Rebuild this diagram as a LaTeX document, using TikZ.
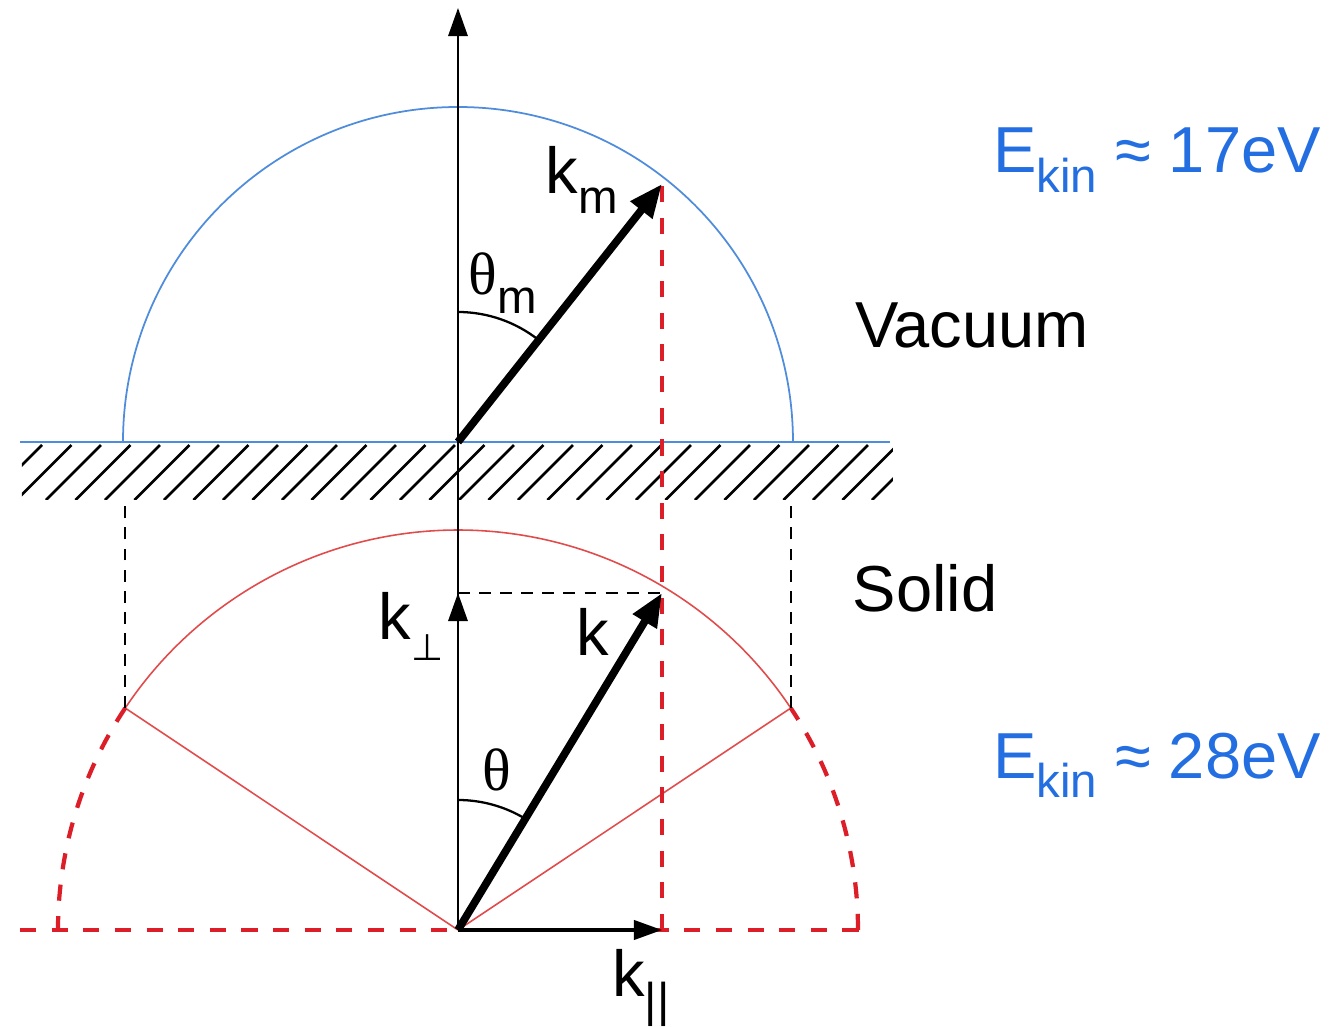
\documentclass[tikz,border=0pt]{standalone}
\usepackage{fontspec}
\setmainfont{Liberation Sans}
\newfontfamily\grkfont{Liberation Serif}
\newfontfamily\symfont{DejaVu Sans}
\usetikzlibrary{arrows.meta}
\definecolor{ekinblue}{RGB}{35,110,225}
\definecolor{vacblue}{RGB}{80,140,220}
\definecolor{solred}{RGB}{220,30,40}
\definecolor{thinred}{RGB}{225,75,75}
\def\RVac{3.35}
\def\RSol{4.0}
\def\KPar{2.04}
\def\KPerp{3.37}
\newcommand\lowsub[1]{\raisebox{-5.5pt}{\fontsize{13.5}{14}\selectfont #1}}

\begin{document}
\begin{tikzpicture}[>={Triangle[length=8pt,width=5.5pt]}, font=\fontsize{18.5}{20}\selectfont,
    thinax/.style={line width=0.65pt},
    kvec/.style={line width=2.2pt, -{Triangle[length=9.5pt,width=7.5pt]}},
    reddash/.style={solred, line width=1.2pt, dash pattern=on 4.6pt off 4.4pt},
    blackdash/.style={line width=0.65pt, dash pattern=on 3.4pt off 2.6pt}]
  \useasboundingbox (-4.58,-0.97) rectangle (8.77,9.30);
  \coordinate (O) at (0,0);
  \coordinate (S) at (0,4.88);
  \coordinate (top) at (0,9.22);
  \coordinate (km) at (\KPar,7.46);
  \coordinate (k) at (\KPar,\KPerp);
  \coordinate (kperp) at (0,\KPerp);
  \coordinate (kpar) at (\KPar,0);
  \coordinate (lc) at (146.3:\RSol);
  \coordinate (rc) at (33.7:\RSol);

  \begin{scope}
    \clip (-4.36,4.30) rectangle (4.35,4.85);
    \foreach \i in {0,...,31}
      \draw[line width=0.75pt] (-4.71+0.295*\i,4.30) -- ++(0.55,0.55);
  \end{scope}
  \draw[vacblue, line width=0.5pt] (-4.38,4.88) -- (4.32,4.88);
  \draw[vacblue, line width=0.5pt] (S) ++(\RVac,0) arc (0:180:\RVac);

  \draw[thinred, line width=0.45pt] (O) -- (rc) arc (33.7:146.3:\RSol) -- (O);
  \draw[reddash] (lc) arc (146.3:180:\RSol);
  \draw[reddash] (\RSol,0) arc (0:33.7:\RSol);
  \draw[reddash] (-4.38,0) -- (4.15,0);
  \draw[reddash] (kpar) -- (km);

  \draw[blackdash] (lc) -- (lc |- 0,4.30);
  \draw[blackdash] (rc) -- (rc |- 0,4.30);
  \draw[blackdash] (kperp) -- (k);

  \draw[thinax, ->] (O) -- (top);
  \draw[thinax, ->] (O) -- (kperp);
  \draw[line width=0.9pt, ->] (O) -- (kpar);
  \draw[kvec] (S) -- (km);
  \draw[kvec] (O) -- (k);

  \draw[thinax] (S) ++(0,1.3) arc (90:51.7:1.3);
  \draw[thinax] (O) ++(0,1.3) arc (90:58.8:1.3);

  \node (thm) at (0.45,6.47) {{\grkfont\fontsize{17}{18}\selectfont θ}\lowsub{m}};
  \node (kml) at (1.24,7.50) {k\lowsub{m}};
  \node (th) at (0.39,1.60) {\grkfont\fontsize{17}{18}\selectfont θ};
  \node (kl) at (1.35,2.98) {k};
  \node (kperpl) at (-0.47,3.04) {k\raisebox{-6pt}{\symfont\fontsize{10.5}{11}\selectfont ⊥}};
  \node (kparl) at (1.83,-0.58) {k\lowsub{||}};
  \node (vac) at (5.14,6.05) {Vacuum};
  \node (sol) at (4.67,3.42) {Solid};
  \node[ekinblue] (evac) at (6.99,7.70) {E\lowsub{kin} ≈ 17eV};
  \node[ekinblue] (esol) at (6.99,1.65) {E\lowsub{kin} ≈ 28eV};
\end{tikzpicture}
\end{document}
